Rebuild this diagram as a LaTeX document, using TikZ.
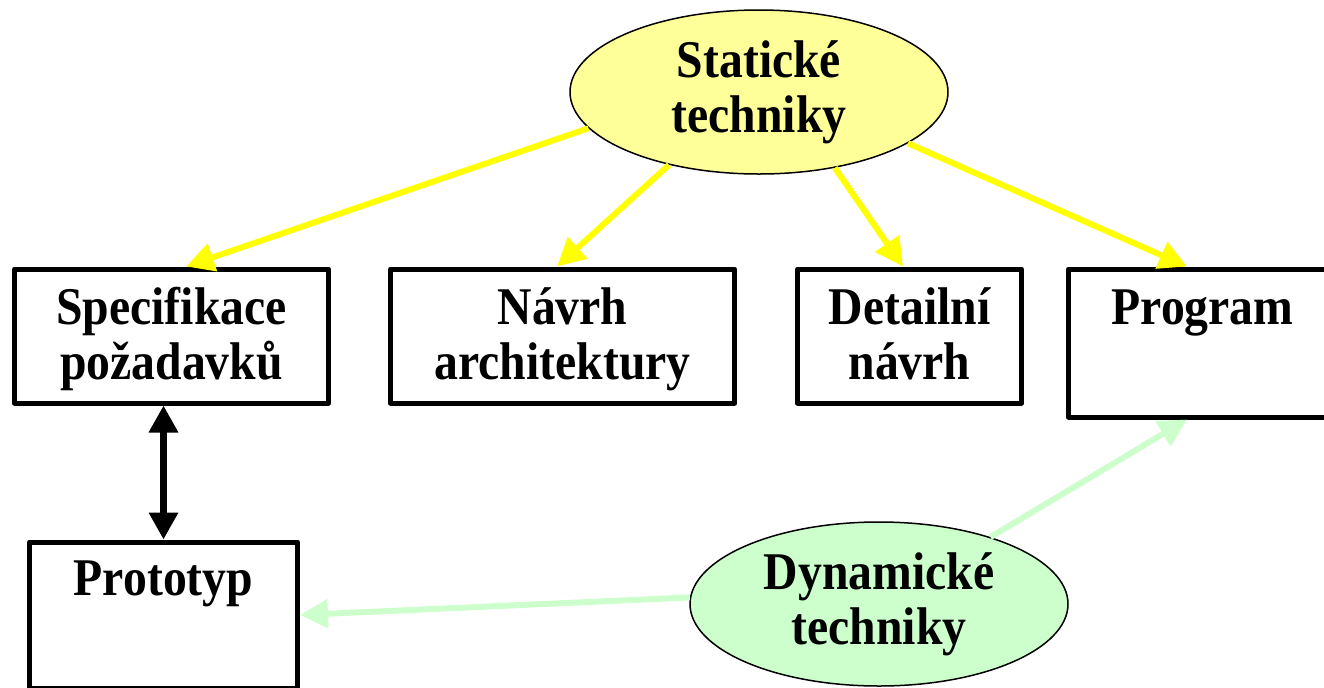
\documentclass[tikz,border=0pt]{standalone}
\usepackage{fontspec}
\setmainfont{Liberation Serif}[FakeStretch=0.9]
\usetikzlibrary{shapes.geometric,arrows.meta}
\definecolor{statfill}{HTML}{FFFF99}
\definecolor{statline}{HTML}{FFFF00}
\definecolor{dynfill}{HTML}{CCFFCC}
\begin{document}
\begin{tikzpicture}[x=0.5pt,y=-0.5pt,
  every node/.style={font=\fontsize{26.5pt}{27.5pt}\selectfont\bfseries, align=center},
  box/.style={draw=black, line width=2.5pt, line join=round, fill=white, inner sep=0pt, anchor=north},
  technik/.style={ellipse, draw=black, line width=0.75pt, minimum width=189pt, minimum height=82pt, inner sep=0pt},
  statarrow/.style={draw=statline, line width=3pt, -{Triangle[length=14pt,width=14pt]}},
  dynarrow/.style={draw=dynfill, line width=3pt, -{Triangle[length=14pt,width=14pt]}},
  linkarrow/.style={draw=black, line width=3.2pt, {Triangle[length=13.5pt,width=14pt]}-{Triangle[length=13.5pt,width=14pt]}}
]
\useasboundingbox (0,0) rectangle (1324,687);
% boxes
\node[box, minimum width=157pt, text height=55.25pt, text depth=11.75pt] (spec) at (171.5,266.5) {Specifikace\\požadavků};
\node[box, minimum width=172pt, text height=55.25pt, text depth=11.75pt] (arch) at (562.5,266.5) {Návrh\\architektury};
\node[box, minimum width=112pt, text height=55.25pt, text depth=11.75pt] (det) at (909.5,266.5) {Detailní\\návrh};
\node[box, minimum width=134pt, text height=27.75pt, text depth=46.25pt] (prog) at (1202.5,266.5) {Program};
\node[box, minimum width=134pt, text height=26.75pt, text depth=46.25pt] (proto) at (163.5,539.5) {Prototyp};
% ellipses
\node[technik, fill=statfill] (stat) at (759,92) {Statické\\techniky};
\node[technik, fill=dynfill] (dyn) at (879,604) {Dynamické\\techniky};
% connectors
\draw[statarrow] (stat.192) -- ([xshift=7.25pt]spec.north);
\draw[statarrow] (stat.219.5) -- ([xshift=-2.75pt]arch.north);
\draw[statarrow] (stat.315.8) -- ([xshift=-3.25pt]det.north);
\draw[statarrow] (stat.341) -- ([xshift=-7.75pt]prog.north);
\draw[dynarrow] (dyn.31.8) -- ([xshift=-7.75pt]prog.south);
\draw[dynarrow] (dyn.178) -- (proto.east);
\draw[linkarrow] (spec.south -| proto.north) -- (proto.north);
\end{tikzpicture}
\end{document}
